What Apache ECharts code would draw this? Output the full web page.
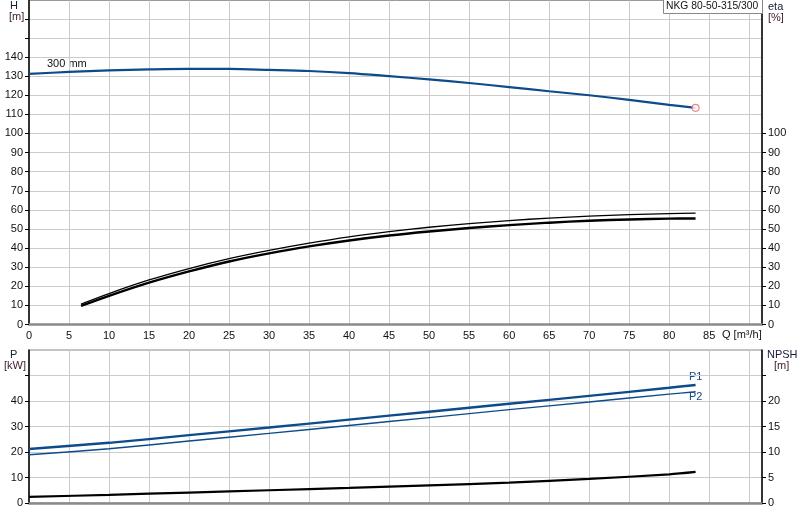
<!DOCTYPE html>
<html>
<head>
<meta charset="utf-8">
<script src="https://cdn.jsdelivr.net/npm/echarts@6.0.0/dist/echarts.min.js"></script>
<style>
html,body{margin:0;padding:0;background:#fff;}
#c{width:800px;height:520px;}
</style>
</head>
<body>
<div id="c"></div>
<script>
// ---- data ----
const title = 'NKG 80-50-315/300';
const flowH = [0,5,10,15,20,25,30,35,40,45,50,55,60,65,70,75,80,83.3];
const headH = [131.2,132.2,133.0,133.5,133.8,133.8,133.3,132.7,131.6,130.0,128.3,126.4,124.3,122.1,120.0,117.6,115.0,113.4];
const flowEta = [6.5,10,15,20,25,30,35,40,45,50,55,60,65,70,75,80,83.3];
const etaUpper = [10.7,16.2,23.3,29.3,34.5,38.8,42.6,45.9,48.6,50.9,52.8,54.4,55.7,56.7,57.5,58.0,58.3];
const etaLower = [9.7,15.0,21.9,27.8,33.0,37.2,40.9,44.0,46.6,48.7,50.5,52.0,53.3,54.3,55.0,55.4,55.5];
const flowP = [0,10,20,30,40,50,60,70,80,83.3];
const powerP1 = [21.2,23.6,26.6,29.6,32.7,35.8,38.9,42.0,45.2,46.3];
const powerP2 = [18.9,21.3,24.3,27.3,30.4,33.5,36.6,39.6,42.7,43.6];
const npshR = [1.2,1.6,2.05,2.5,2.95,3.45,4.0,4.72,5.62,6.1];
const qTicks = [0,5,10,15,20,25,30,35,40,45,50,55,60,65,70,75,80,85];
const hTicks = [0,10,20,30,40,50,60,70,80,90,100,110,120,130,140];
const etaTicks = [0,10,20,30,40,50,60,70,80,90,100];
const pTicks = [0,10,20,30,40];
const npshTicks = [0,5,10,15,20];

const zip = (a,b) => a.map((v,i)=>[v,b[i]]);
const BLUE = '#0d4b8c';
const FONT = 'Liberation Sans, Arial, sans-serif';
const lab = {color:'#111', fontSize:11, fontFamily:FONT};
const SM = 0.3;

const chart = echarts.init(document.getElementById('c'), null, {renderer:'canvas'});
const xCommon = {
  type:'value', min:0, max:91.6, interval:5,
  axisLine:{show:true, lineStyle:{color:'#8a8a8a', width:2.5}},
  axisTick:{show:false},
  splitLine:{show:true, lineStyle:{color:'#cccccc', width:1}}
};
const option = {
  animation:false,
  grid:[
    {left:29, right:38, top:0.5, height:324, show:true, borderColor:'#999', borderWidth:1},
    {left:29, right:38, top:350, height:153, show:true, borderColor:'#888', borderWidth:1}
  ],
  xAxis:[
    Object.assign({}, xCommon, {gridIndex:0,
      axisLabel:Object.assign({}, lab, {margin:6, customValues:qTicks})}),
    Object.assign({}, xCommon, {gridIndex:1, axisLabel:{show:false}})
  ],
  yAxis:[
    {type:'value', gridIndex:0, min:0, max:169.6, interval:10, position:'left',
     axisLine:{show:true, lineStyle:{color:'#000', width:1.5}},
     axisTick:{show:true, length:4, lineStyle:{color:'#000'}, customValues:[0,10,20,30,40,50,60,70,80,90,100,110,120,130,140,150,160]},
     axisLabel:Object.assign({}, lab, {margin:6, customValues:hTicks}),
     splitLine:{show:true, lineStyle:{color:'#cccccc', width:1}}},
    {type:'value', gridIndex:0, min:0, max:169.6, interval:10, position:'right',
     axisLine:{show:true, lineStyle:{color:'#000', width:1.5}},
     axisTick:{show:true, length:4, lineStyle:{color:'#000'}, customValues:etaTicks},
     axisLabel:Object.assign({}, lab, {margin:6, customValues:etaTicks}),
     splitLine:{show:false}},
    {type:'value', gridIndex:1, min:0, max:60, interval:10, position:'left',
     axisLine:{show:true, lineStyle:{color:'#000', width:1.5}},
     axisTick:{show:true, length:4, lineStyle:{color:'#000'}, customValues:[0,10,20,30,40,50]},
     axisLabel:Object.assign({}, lab, {margin:6, customValues:pTicks}),
     splitLine:{show:true, lineStyle:{color:'#cccccc', width:1}}},
    {type:'value', gridIndex:1, min:0, max:30, interval:5, position:'right',
     axisLine:{show:true, lineStyle:{color:'#000', width:1.5}},
     axisTick:{show:true, length:4, lineStyle:{color:'#000'}, customValues:[0,5,10,15,20,25]},
     axisLabel:Object.assign({}, lab, {margin:6, customValues:npshTicks}),
     splitLine:{show:false}}
  ],
  series:[
    {type:'line', xAxisIndex:0, yAxisIndex:0, data:zip(flowH, headH), smooth:SM, symbol:'none',
     lineStyle:{color:BLUE, width:2.2}},
    {type:'scatter', xAxisIndex:0, yAxisIndex:0, data:[[flowH[flowH.length-1], headH[headH.length-1]]],
     symbol:'circle', symbolSize:7, itemStyle:{color:'#fff', borderColor:'#e8686e', borderWidth:1.2}, z:5},
    {type:'line', xAxisIndex:0, yAxisIndex:1, data:zip(flowEta, etaUpper), smooth:SM, symbol:'none',
     lineStyle:{color:'#000', width:1.3}},
    {type:'line', xAxisIndex:0, yAxisIndex:1, data:zip(flowEta, etaLower), smooth:SM, symbol:'none',
     lineStyle:{color:'#000', width:2.4}},
    {type:'line', xAxisIndex:1, yAxisIndex:2, data:zip(flowP, powerP1), smooth:SM, symbol:'none',
     lineStyle:{color:BLUE, width:2.4}},
    {type:'line', xAxisIndex:1, yAxisIndex:2, data:zip(flowP, powerP2), smooth:SM, symbol:'none',
     lineStyle:{color:BLUE, width:1.4}},
    {type:'line', xAxisIndex:1, yAxisIndex:3, data:zip(flowP, npshR), smooth:SM, symbol:'none',
     lineStyle:{color:'#000', width:2.2}}
  ],
  graphic:[
    {type:'text', left:10, top:0, style:{text:'H', fill:'#1a1a3a', font:'11px '+FONT}},
    {type:'text', left:9, top:11, style:{text:'[m]', fill:'#3a1a2a', font:'11px '+FONT}},
    {type:'text', left:768, top:1, style:{text:'eta', fill:'#1a1a3a', font:'11px '+FONT}},
    {type:'text', left:768, top:12, style:{text:'[%]', fill:'#3a1a2a', font:'11px '+FONT}},
    {type:'text', left:10, top:349, style:{text:'P', fill:'#1a1a3a', font:'11px '+FONT}},
    {type:'text', left:4, top:360, style:{text:'[kW]', fill:'#3a1a2a', font:'11px '+FONT}},
    {type:'text', left:767, top:349, style:{text:'NPSH', fill:'#1a1a3a', font:'11px '+FONT}},
    {type:'text', left:774, top:360, style:{text:'[m]', fill:'#3a1a2a', font:'11px '+FONT}},
    {type:'text', left:722, top:329, style:{text:'Q [m³/h]', fill:'#111', font:'11px '+FONT}},
    {type:'text', left:47, top:58, style:{text:'300 mm', fill:'#111', font:'11px '+FONT}},
    {type:'text', left:689, top:371, style:{text:'P1', fill:BLUE, font:'11px '+FONT}},
    {type:'text', left:689, top:391, style:{text:'P2', fill:BLUE, font:'11px '+FONT}},
    {type:'rect', left:663, top:-1, shape:{width:99, height:14}, style:{fill:'#fff', stroke:'#888', lineWidth:1}, z:10},
    {type:'text', left:666, top:1, style:{text:title, fill:'#111', font:'10.3px '+FONT}, z:11}
  ]
};
chart.setOption(option);
</script>
</body>
</html>
